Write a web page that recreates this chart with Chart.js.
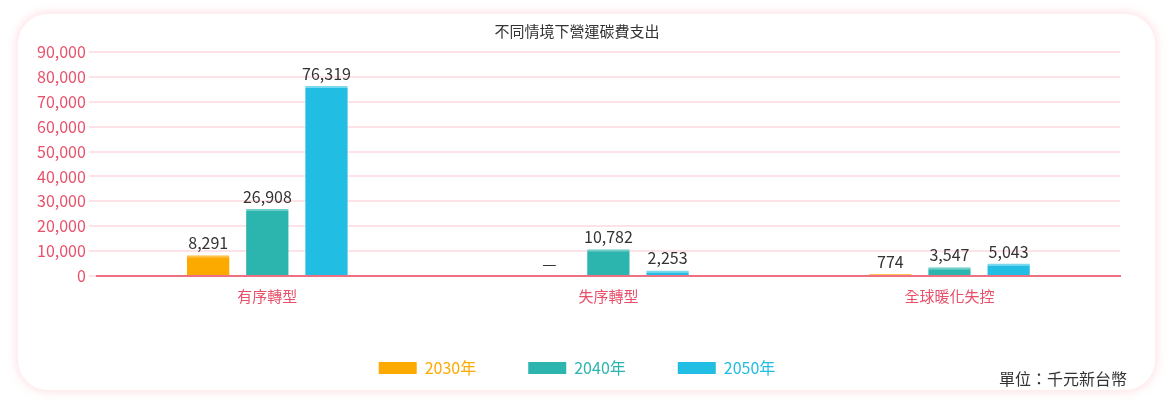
<!DOCTYPE html>
<html><head><meta charset="utf-8">
<script src="https://cdn.jsdelivr.net/npm/chart.js@4/dist/chart.umd.min.js"></script>
<style>
body{margin:0;background:#fff;font-family:"Noto Sans CJK TC","Noto Sans",sans-serif;}
#card{position:absolute;left:18px;top:14px;width:1137px;height:376px;border-radius:30px;background:#fff;box-shadow:0 0 10px 2px rgba(255,190,200,0.45);}
#c{position:absolute;left:0;top:0;}
#unit{position:absolute;right:28px;top:352px;font-size:16px;color:#333;}
</style></head><body>
<div id="card"><canvas id="c" width="1137" height="376"></canvas><div id="unit">單位：千元新台幣</div></div>
<script>
const categories=["有序轉型","失序轉型","全球暖化失控"];
const seriesNames=["2030年","2040年","2050年"];
const v2030=[8291,0,774];
const v2040=[26908,10782,3547];
const v2050=[76319,2253,5043];
const labels2030=["8,291","—","774"];
const labels2040=["26,908","10,782","3,547"];
const labels2050=["76,319","2,253","5,043"];
const colors=["#fdaa00","#2bb5ae","#22bde3"];
const tops=["#fdc24d","#6fd0ca","#7ad8f0"];
const vals=[v2030,v2040,v2050], lbls=[labels2030,labels2040,labels2050];
const labelPlugin={id:'vl',afterDatasetsDraw(chart){
 const ctx=chart.ctx;ctx.save();ctx.font='16px "Noto Sans CJK TC"';ctx.fillStyle='#333';ctx.textAlign='center';ctx.textBaseline='bottom';
 chart.data.datasets.forEach((ds,i)=>{chart.getDatasetMeta(i).data.forEach((b,j)=>{ctx.fillText(lbls[i][j],b.x,b.y-4);});});
 ctx.restore();}};
new Chart(document.getElementById('c'),{type:'bar',
data:{labels:categories,datasets:seriesNames.map((n,i)=>({label:n,data:vals[i],backgroundColor:colors[i],borderColor:tops[i],borderWidth:{top:2,left:0,right:0,bottom:0},borderSkipped:false,categoryPercentage:0.52,barPercentage:0.72}))},
options:{responsive:false,animation:false,devicePixelRatio:1,
 layout:{padding:{left:16,right:35,top:4,bottom:4}},
 plugins:{title:{display:true,text:'不同情境下營運碳費支出',color:'#333',font:{size:15,family:'"Noto Sans CJK TC"',weight:'normal'},padding:{top:4,bottom:12}},
  legend:{position:'bottom',labels:{boxWidth:38,boxHeight:12,padding:52,font:{size:16,family:'"Noto Sans CJK TC"'},
   generateLabels:(ch)=>ch.data.datasets.map((d,i)=>({text:d.label,fillStyle:colors[i],strokeStyle:colors[i],lineWidth:0,fontColor:colors[i],datasetIndex:i}))}},
  tooltip:{enabled:false}},
 scales:{x:{grid:{display:false},border:{color:'#f07083',width:2},ticks:{color:'#e8506a',maxRotation:0,font:{size:15,family:'"Noto Sans CJK TC"'}}},
  y:{min:0,max:90000,ticks:{stepSize:10000,color:'#e8506a',font:{size:16,family:'"Noto Sans CJK TC"'},callback:v=>v.toLocaleString('en-US')},grid:{color:'#fde3e7',lineWidth:2},border:{display:false}}}},
plugins:[labelPlugin]});
</script>
</body></html>
